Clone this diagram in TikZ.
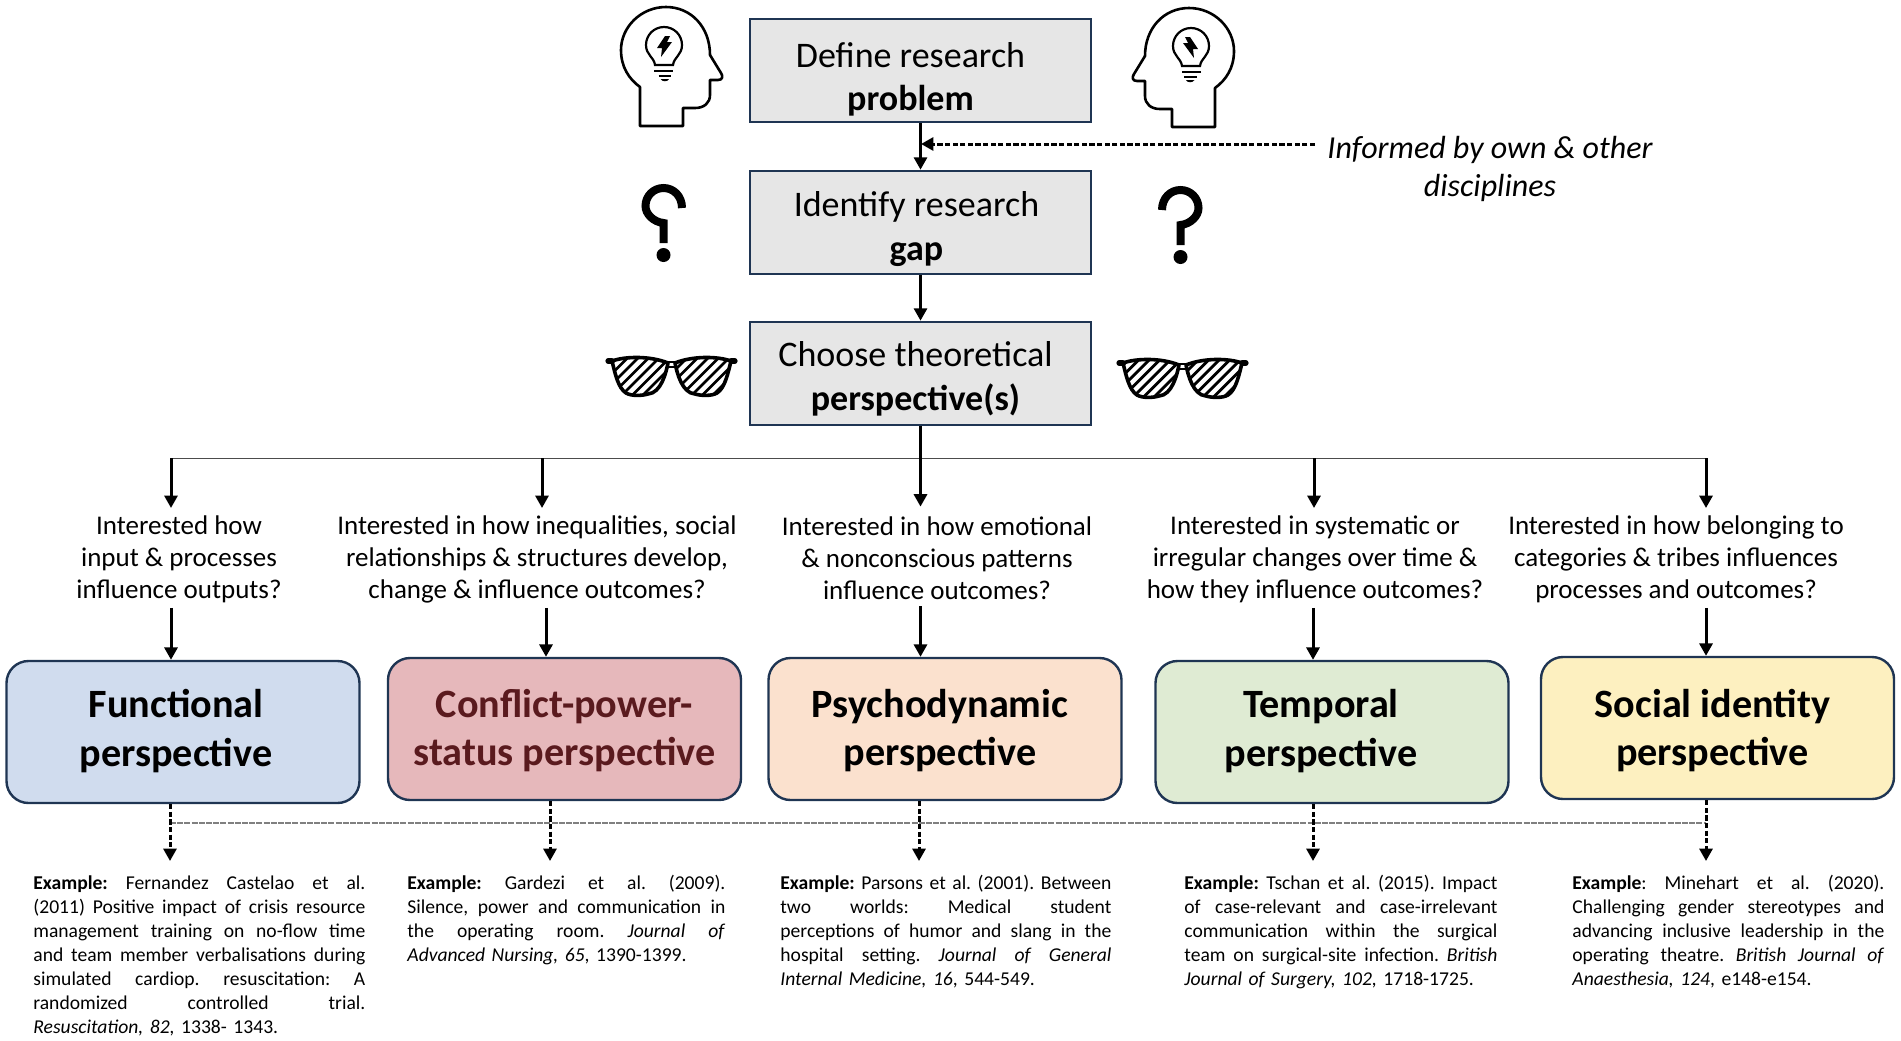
\documentclass[tikz,border=0pt]{standalone}
\usepackage{fontspec}
\setmainfont{Carlito}
\frenchspacing
\usepackage{tikz}
\usetikzlibrary{arrows.meta}
\definecolor{boxline}{HTML}{1F3553}
\definecolor{boxgrey}{HTML}{E6E6E6}
\definecolor{funcblue}{HTML}{D0DCEE}
\definecolor{confred}{HTML}{E6B8BB}
\definecolor{confdark}{HTML}{5A1A1E}
\definecolor{psypeach}{HTML}{FBE1CE}
\definecolor{tempgreen}{HTML}{DFEBD3}
\definecolor{socyellow}{HTML}{FDF0C0}
\newcommand{\exj}[1]{\leavevmode\hbox to \exw{\spaceskip=\fontdimen2\font plus 1fil #1}}
\newcommand{\headicon}[3]{\begin{scope}[shift={(#1,#2)},xscale=#3]
    \draw[line width=1.3pt,line join=round] (19,119) -- (62,119) -- (62,101) -- (74,101) .. controls (83,101) and (89,96) .. (89,88) -- (89,73) -- (97,73) .. controls (102,73) and (102,69) .. (100,66) -- (89,48) .. controls (89,20) and (70,0) .. (45,0) .. controls (20,0) and (0,20) .. (0,43) .. controls (0,60) and (8,72) .. (19,80) -- cycle;
    \draw[line width=1.1pt] (34,58) .. controls (33,50) and (25,48) .. (25,38) .. controls (25,28) and (33,20) .. (43,20) .. controls (53,20) and (61,28) .. (61,38) .. controls (61,48) and (53,50) .. (52,58) -- cycle;
    \draw[line width=1.1pt] (33,64) -- (52,64) (37.5,69) -- (50,69);
    \fill (39.5,72) -- (48,72) .. controls (47,75) and (41,75) .. (39.5,72) -- cycle;
    \fill (44,29) -- (36,41) -- (41,41) -- (40,50) -- (51,35) -- (46,35) -- (49,29) -- cycle;
\end{scope}}
\newcommand{\askicon}[3]{\begin{scope}[shift={(#1,#2)},xscale=#3]
    \draw[line width=4pt] (-18.5,24) .. controls (-18.5,12) and (-10,4) .. (0,4) .. controls (10,4) and (18,12) .. (18,22) .. controls (18,30) and (10,38) .. (0,39) -- (0,59);
    \fill (0,71) ellipse (7 and 7);
\end{scope}}
\newcommand{\lensicon}[2]{\begin{scope}[shift={(#1,#2)}]
    \begin{scope}
        \clip (6,8) .. controls (20,3) and (45,3) .. (62,10) .. controls (60,20) and (55,40) .. (42,41) .. controls (35,43) and (25,43) .. (20,40) .. controls (12,35) and (9,20) .. (6,8) -- cycle;
        \foreach \i in {0,...,9}{\draw[line width=1.4pt] (-30+10.5*\i,46) -- (16+10.5*\i,0);}
    \end{scope}
    \begin{scope}
        \clip (125,8) .. controls (111,3) and (86,3) .. (69,10) .. controls (71,20) and (76,40) .. (89,41) .. controls (96,43) and (106,43) .. (111,40) .. controls (119,35) and (122,20) .. (125,8) -- cycle;
        \foreach \i in {0,...,9}{\draw[line width=1.4pt] (40+10.5*\i,46) -- (86+10.5*\i,0);}
    \end{scope}
    \draw[line width=1.8pt,line join=round] (6,8) .. controls (20,3) and (45,3) .. (62,10) .. controls (60,20) and (55,40) .. (42,41) .. controls (35,43) and (25,43) .. (20,40) .. controls (12,35) and (9,20) .. (6,8) -- cycle;
    \draw[line width=1.8pt,line join=round] (125,8) .. controls (111,3) and (86,3) .. (69,10) .. controls (71,20) and (76,40) .. (89,41) .. controls (96,43) and (106,43) .. (111,40) .. controls (119,35) and (122,20) .. (125,8) -- cycle;
    \draw[line width=2.6pt,line cap=round] (2,8) -- (6,8) (125,8) -- (129,8);
    \draw[line width=1pt] (62,9) -- (69,9) (62,14) -- (69,14);
\end{scope}}
\tikzset{
    stepbox/.style={draw=boxline,line width=1.3pt,fill=boxgrey,minimum width=170.5pt,minimum height=51.5pt,inner sep=0pt},
    steptext/.style={align=center,inner sep=0pt,font=\fontsize{18}{21.8}\selectfont},
    persp/.style={draw=boxline,line width=1.2pt,rounded corners=11pt,minimum width=176.5pt,minimum height=71pt,inner sep=0pt},
    persptext/.style={align=center,inner sep=0pt,font=\fontsize{20.1}{24.2}\selectfont\bfseries},
    ask/.style={align=center,inner sep=0pt,minimum height=48pt,font=\fontsize{13.5}{16}\selectfont},
    expl/.style={anchor=north west,align=left,inner sep=0pt,text width=#1,execute at begin node={\def\exw{#1}},font=\fontsize{9.8}{12}\selectfont},
    arr/.style={line width=1.5pt,-{Triangle[length=6.2pt,width=6.5pt]}},
    darr/.style={line width=1.5pt,dash pattern=on 2.6pt off 1.2pt,-{Triangle[length=6.2pt,width=6.5pt]}},
}
\begin{document}
\begin{tikzpicture}[x=0.5pt,y=-0.5pt]
    \useasboundingbox (0,0) rectangle (1901,1040);
    % top boxes
    \node[stepbox] (problem) at (920.5,70.5) {};
    \node[stepbox] (gap) at (920.5,222.5) {};
    \node[stepbox] (choose) at (920.5,373.5) {};
    \node[steptext] (problemtext) at (910.5,79.5) {Define research\\\textbf{problem}};
    \node[steptext] (gaptext) at (916.5,229) {Identify research\\\textbf{gap}};
    \node[steptext] (choosetext) at (915.5,379) {Choose theoretical\\\textbf{perspective(s)}};
    \node[align=center,inner sep=0pt,font=\fontsize{16}{19}\selectfont\itshape] (inform) at (1490,168.5) {Informed by own \& other\\disciplines};
    % icons
    \headicon{621}{7}{1}
    \headicon{1234}{8}{-1}
    \askicon{663.5}{184}{-1}
    \askicon{1180.5}{186}{1}
    \lensicon{606}{353}
    \lensicon{1117}{355}
    % questions
    \node[ask] (q1) at (179,559.4) {Interested how\\input \& processes\\influence outputs?};
    \node[ask] (q2) at (537,559.4) {Interested in how inequalities, social\\relationships \& structures develop,\\change \& influence outcomes?};
    \node[ask] (q3) at (937,558) {Interested in how emotional\\\& nonconscious patterns\\influence outcomes?};
    \node[ask] (q4) at (1315,559.4) {Interested in systematic or\\irregular changes over time \&\\how they influence outcomes?};
    \node[ask] (q5) at (1676,559.4) {Interested in how belonging to\\categories \& tribes influences\\processes and outcomes?};
    % perspectives
    \node[persp,fill=funcblue] (func) at (183,732) {};
    \node[persp,fill=confred] (conf) at (564.5,729) {};
    \node[persp,fill=psypeach] (psy) at (945,729) {};
    \node[persp,fill=tempgreen] (temp) at (1332,732) {};
    \node[persp,fill=socyellow] (soc) at (1717.5,728) {};
    \node[persptext] (functext) at (176,731) {Functional\\perspective};
    \node[persptext,text=confdark] (conftext) at (564.5,730.5) {Conflict-power-\\status perspective};
    \node[persptext] (psytext) at (940,730.5) {Psychodynamic\\perspective};
    \node[persptext] (temptext) at (1321,731) {Temporal\\perspective};
    \node[persptext] (soctext) at (1712.5,730.5) {Social identity\\perspective};
    % examples
    \node[expl=166pt] (ex1) at (33,875) {\exj{\textbf{Example:} Fernandez Castelao et al.}\\\exj{(2011) Positive impact of crisis resource}\\\exj{management training on no-flow time}\\\exj{and team member verbalisations during}\\\exj{simulated cardiop. resuscitation: A}\\\exj{randomized controlled trial.}\\\textit{Resuscitation, 82,} 1338- 1343.};
    \node[expl=159pt] (ex2) at (407,875) {\exj{\textbf{Example:} Gardezi et al. (2009).}\\\exj{Silence, power and communication in}\\\exj{the operating room. \textit{Journal of}}\\\textit{Advanced Nursing, 65}, 1390-1399.};
    \node[expl=165.5pt] (ex3) at (780,875) {\exj{\textbf{Example:} Parsons et al. (2001). Between}\\\exj{two worlds: Medical student}\\\exj{perceptions of humor and slang in the}\\\exj{hospital setting. \textit{Journal of General}}\\\textit{Internal Medicine, 16}, 544-549.};
    \node[expl=156.5pt] (ex4) at (1184,875) {\exj{\textbf{Example:} Tschan et al. (2015). Impact}\\\exj{of case-relevant and case-irrelevant}\\\exj{communication within the surgical}\\\exj{team on surgical-site infection. \textit{British}}\\\textit{Journal of Surgery, 102,} 1718-1725.};
    \node[expl=156pt] (ex5) at (1572,875) {\exj{\textbf{Example}: Minehart et al. (2020).}\\\exj{Challenging gender stereotypes and}\\\exj{advancing inclusive leadership in the}\\\exj{operating theatre. \textit{British Journal of}}\\\textit{Anaesthesia, 124}, e148-e154.};
    % coordinates of the branches
    \coordinate (t1) at (171,458);
    \coordinate (t2) at (542,458);
    \coordinate (t3) at (920.5,458);
    \coordinate (t4) at (1314,458);
    \coordinate (t5) at (1706,458);
    \coordinate (b2) at (546,458);
    \coordinate (d1) at (170,823);
    \coordinate (d2) at (550,823);
    \coordinate (d3) at (919,823);
    \coordinate (d4) at (1313,823);
    \coordinate (d5) at (1706,823);
    \coordinate (infofrom) at (1315,144);
    \coordinate (infoto) at (921,144);
    % connectors
    \draw[arr] (problem) -- (gap);
    \draw[arr] (gap) -- (choose);
    \draw[darr] (infofrom) -- (infoto);
    \draw[line width=0.5pt,black!70] (t1) -- (t5);
    \draw[arr,shorten >=1.5pt] (choose.south) -- (q3.north -| t3);
    \foreach \t/\q in {t1/q1,t2/q2,t4/q4,t5/q5}{\draw[arr,shorten >=1.5pt] (\t) -- (\q.north -| \t);}
    \draw[arr] (q1.south -| t1) -- (func.north -| t1);
    \draw[arr] (q2.south -| b2) -- (conf.north -| b2);
    \draw[arr] (q3.south -| t3) -- (psy.north -| t3);
    \draw[arr] (q4.south -| d4) -- (temp.north -| d4);
    \draw[arr] (q5.south -| d5) -- (soc.north -| d5);
    \draw[line width=0.6pt,black!50,dash pattern=on 3pt off 0.6pt] (d1) -- (d5);
    \draw[darr,shorten >=7pt] (func.south -| d1) -- (ex1.north -| d1);
    \draw[darr,shorten >=7pt] (conf.south -| d2) -- (ex2.north -| d2);
    \draw[darr,shorten >=7pt] (psy.south -| d3) -- (ex3.north -| d3);
    \draw[darr,shorten >=7pt] (temp.south -| d4) -- (ex4.north -| d4);
    \draw[darr,shorten >=7pt] (soc.south -| d5) -- (ex5.north -| d5);
\end{tikzpicture}
\end{document}
